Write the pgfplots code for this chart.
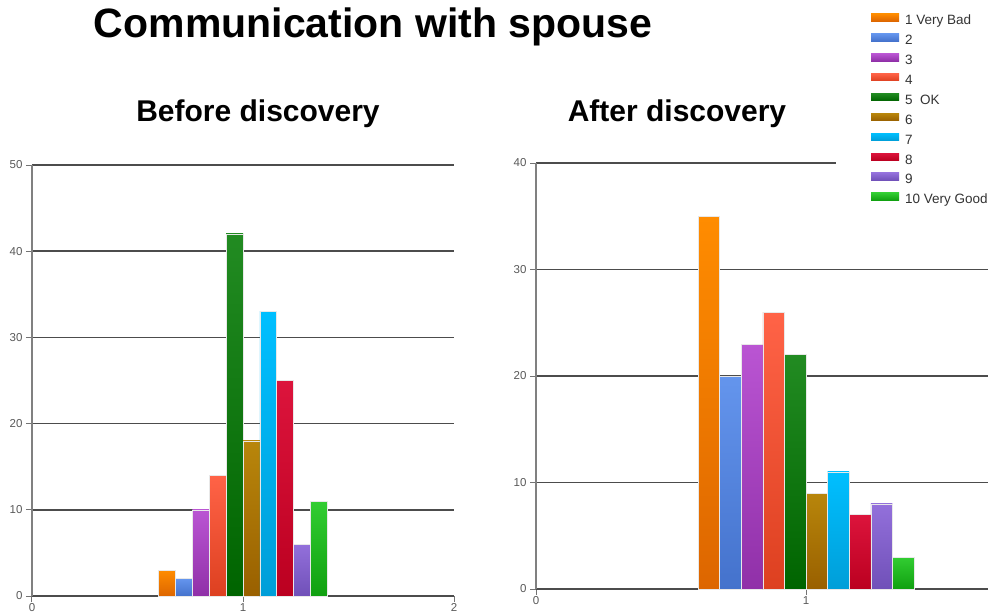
\documentclass[border=0pt]{standalone}
\usepackage{pgfplots}
\pgfplotsset{compat=1.18}
\usepackage{fontspec}
\setmainfont{Liberation Sans}

% top / bottom colours of the glossy bars
\definecolor{t1}{HTML}{FF8C00}\definecolor{b1}{HTML}{DD6600}
\definecolor{t2}{HTML}{6495ED}\definecolor{b2}{HTML}{4472CC}
\definecolor{t3}{HTML}{BA55D3}\definecolor{b3}{HTML}{9030A8}
\definecolor{t4}{HTML}{FF6347}\definecolor{b4}{HTML}{DD4020}
\definecolor{t5}{HTML}{228B22}\definecolor{b5}{HTML}{006400}
\definecolor{t6}{HTML}{B8860B}\definecolor{b6}{HTML}{996000}
\definecolor{t7}{HTML}{00BFFF}\definecolor{b7}{HTML}{009ED8}
\definecolor{t8}{HTML}{DC143C}\definecolor{b8}{HTML}{BB0020}
\definecolor{t9}{HTML}{9370DB}\definecolor{b9}{HTML}{7050B8}
\definecolor{t10}{HTML}{32CD32}\definecolor{b10}{HTML}{10A010}

\pgfplotsset{
  sp/.style={
    scale only axis, anchor=south west,
    ybar, ymin=0, xmin=0,
    bar width=0.08,
    axis x line*=bottom, axis y line*=left,
    tick align=outside, major tick length=6pt,
    ymajorgrids,
    major grid style={draw=black!70, line width=1.6pt},
    axis line style={draw=black!50, line width=1.6pt},
    x axis line style={draw=black!70},
    every tick/.style={draw=black!55, line width=1pt},
    tick label style={font=\fontsize{11.5}{11.5}\selectfont, text=black!65},
    xticklabel style={yshift=2pt},
    /pgf/number format/assume math mode=true,
    enlargelimits=false, clip=false,
    every axis plot/.append style={draw=white!82!gray, line width=0.6pt},
  },
  s/.style={bar shift=#1},
  c/.style={top color=t#1, bottom color=b#1, fill=t#1},
}

\begin{document}
\begin{tikzpicture}

\node[anchor=base, font=\bfseries\fontsize{41}{41}\selectfont] at (373pt,-37pt) {Communication with spouse};
\node[anchor=base, font=\bfseries\fontsize{30}{30}\selectfont] at (258pt,-121pt) {Before discovery};
\node[anchor=base, font=\bfseries\fontsize{30}{30}\selectfont] at (677pt,-121pt) {After discovery};

% Before discovery
\begin{axis}[sp, at={(32pt,-596pt)}, width=422pt, height=431pt,
    xmax=2, ymax=50, xtick={0,1,2}, ytick={0,10,20,30,40,50}]
\addplot[c=1, s=-0.36] coordinates {(1,3)};
\addplot[c=2, s=-0.28] coordinates {(1,2)};
\addplot[c=3, s=-0.20] coordinates {(1,10)};
\addplot[c=4, s=-0.12] coordinates {(1,14)};
\addplot[c=5, s=-0.04] coordinates {(1,42)};
\addplot[c=6, s=0.04] coordinates {(1,18)};
\addplot[c=7, s=0.12] coordinates {(1,33)};
\addplot[c=8, s=0.20] coordinates {(1,25)};
\addplot[c=9, s=0.28] coordinates {(1,6)};
\addplot[c=10, s=0.36] coordinates {(1,11)};
\end{axis}

% After discovery
\begin{axis}[sp, at={(536pt,-589pt)}, width=452pt, height=426pt,
    xmax=1.674, ymax=40, xtick={0,1}, ytick={0,10,20,30,40},
    legend style={at={(axis description cs:0.6637,1.3826)}, anchor=north west,
      draw=none, fill=white, inner xsep=35pt, inner ysep=13.5pt,
      font=\fontsize{13.5}{13.5}\selectfont, text=black!80, row sep=6.9pt,
      nodes={inner sep=0pt, text height=9pt, text depth=2pt},
      /tikz/every odd column/.append style={column sep=6pt}},
    legend cell align=left,
    legend image code/.code={\fill[#1, draw=none] (0pt,0pt) rectangle (28pt,7.5pt);}]
\addplot[c=1, s=-0.36] coordinates {(1,35)};
\addplot[c=2, s=-0.28] coordinates {(1,20)};
\addplot[c=3, s=-0.20] coordinates {(1,23)};
\addplot[c=4, s=-0.12] coordinates {(1,26)};
\addplot[c=5, s=-0.04] coordinates {(1,22)};
\addplot[c=6, s=0.04] coordinates {(1,9)};
\addplot[c=7, s=0.12] coordinates {(1,11)};
\addplot[c=8, s=0.20] coordinates {(1,7)};
\addplot[c=9, s=0.28] coordinates {(1,8)};
\addplot[c=10, s=0.36] coordinates {(1,3)};
\legend{1 Very Bad,2,3,4,5\ \ OK,6,7,8,9,10 Very Good}
\end{axis}

\pgfresetboundingbox
\path[use as bounding box] (0pt,0pt) rectangle (1004pt,-614pt);
\end{tikzpicture}
\end{document}
